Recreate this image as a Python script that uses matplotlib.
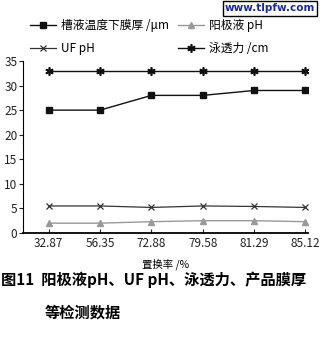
import matplotlib
matplotlib.use('Agg')
import matplotlib.pyplot as plt
import numpy as np

plt.rcParams['font.family'] = ['Noto Sans CJK SC', 'DejaVu Sans']

# 数据
rates = ['32.87', '56.35', '72.88', '79.58', '81.29', '85.12']
film = [25, 25, 28, 28, 29, 29]
anolyte_ph = [2.0, 2.0, 2.3, 2.5, 2.5, 2.3]
uf_ph = [5.5, 5.5, 5.2, 5.5, 5.4, 5.2]
throw = [33, 33, 33, 33, 33, 33]
yticks = [0, 5, 10, 15, 20, 25, 30, 35]

fig = plt.figure(figsize=(3.2, 3.44), dpi=100)
ax = fig.add_axes([0.072, 0.3227, 0.8905, 0.5])
x = np.arange(len(rates))

l1, = ax.plot(x, film, color='#111111', lw=1.0, marker='s', ms=5, label='槽液温度下膜厚 /μm')
l2, = ax.plot(x, anolyte_ph, color='#999999', lw=1.0, marker='^', ms=5, label='阳极液 pH')
l3, = ax.plot(x, uf_ph, color='#333333', lw=0.9, marker='x', ms=5, mew=0.9, label='UF pH')
l4, = ax.plot(x, throw, color='#111111', lw=1.0, marker=(6, 2, 0), ms=6, mew=1.2, label='泳透力 /cm')

ax.set_xlim(-0.5, 5.05)
ax.set_ylim(0, 35)
ax.set_yticks(yticks)
ax.set_xticks(x)
ax.set_xticklabels(rates)
ax.tick_params(axis='y', direction='out', length=3, labelsize=8.5, pad=1, colors='#222222')
ax.tick_params(axis='x', direction='in', length=3, labelsize=8.5, pad=3, colors='#222222')
for s in ['top', 'right']:
    ax.spines[s].set_visible(False)
ax.spines['left'].set_linewidth(0.8)
ax.spines['bottom'].set_linewidth(1.3)
ax.set_xlabel('置换率 /%', fontsize=7.5, labelpad=6)

# 图例：两列，第一行膜厚/阳极液，第二行 UF/泳透力
fig.legend(handles=[l1, l3, l2, l4], ncol=2, loc='upper left', bbox_to_anchor=(0.08, 0.958),
           frameon=False, fontsize=8.5, columnspacing=0.8, handlelength=2.2,
           handletextpad=0.4, labelspacing=0.8, borderaxespad=0)

fig.text(0.003, 0.186, '图11  阳极液pH、UF pH、泳透力、产品膜厚', fontsize=11,
         fontweight='bold', va='center')
fig.text(0.14, 0.09, '等检测数据', fontsize=11, fontweight='bold', va='center')

fig.text(0.985, 0.99, 'www.tlpfw.com', fontsize=7.5, fontweight='bold', color='#1a2aa0',
         ha='right', va='top', family='DejaVu Sans',
         bbox=dict(boxstyle='square,pad=0.2', fc='white', ec='black', lw=1))

fig.savefig('out.png', dpi=100)
